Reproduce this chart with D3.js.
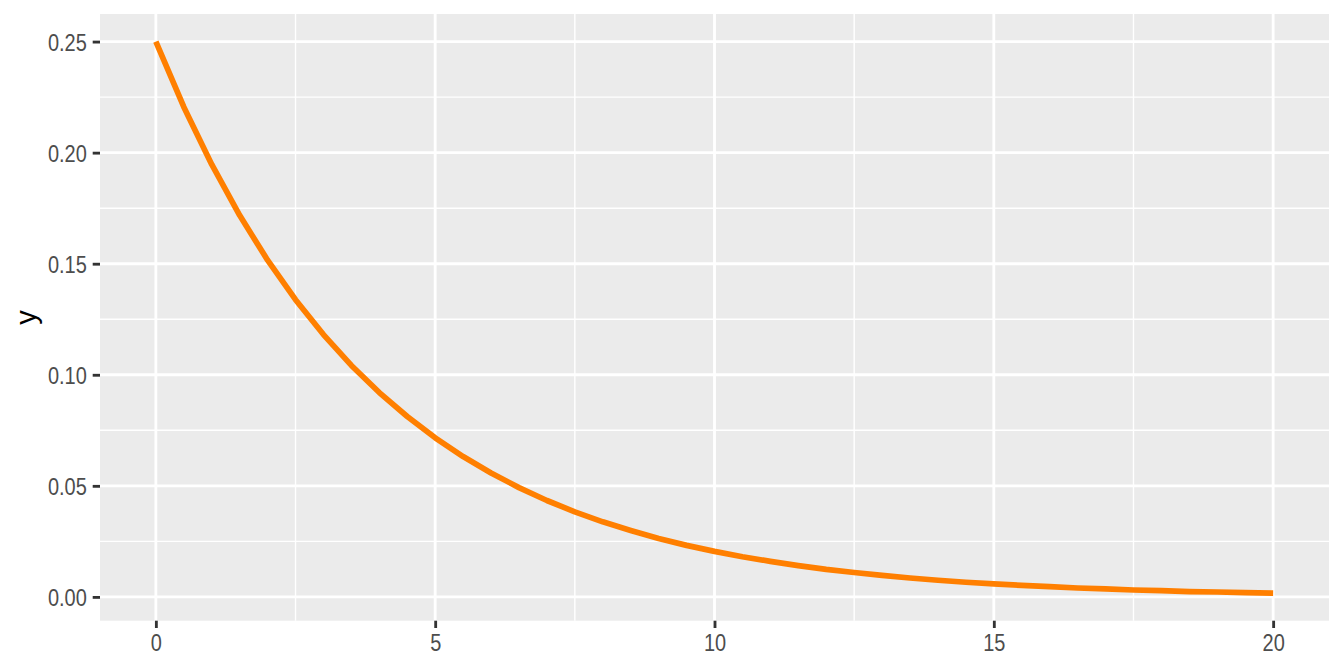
<!DOCTYPE html>
<html>
<head>
<meta charset="utf-8">
<script src="https://cdn.jsdelivr.net/npm/d3@7"></script>
<style>
  html, body { margin: 0; padding: 0; background: #ffffff; }
  svg { display: block; }
  text { font-family: "Liberation Sans Narrow", "Liberation Sans", Arial, sans-serif; }
</style>
</head>
<body>
<svg id="chart" width="1344" height="672"></svg>
<script>
// Data
const xValues = [0, 0.5, 1, 1.5, 2, 2.5, 3, 3.5, 4, 4.5, 5, 5.5, 6, 6.5, 7, 7.5, 8, 8.5, 9, 9.5,
                 10, 10.5, 11, 11.5, 12, 12.5, 13, 13.5, 14, 14.5, 15, 15.5, 16, 16.5, 17, 17.5, 18, 18.5, 19, 19.5, 20];
const yValues = [0.2500, 0.2206, 0.1947, 0.1718, 0.1516, 0.1338, 0.1181, 0.1042, 0.0920, 0.0812,
                 0.0716, 0.0632, 0.0558, 0.0492, 0.0434, 0.0383, 0.0338, 0.0299, 0.0263, 0.0232,
                 0.0205, 0.0181, 0.0160, 0.0141, 0.0124, 0.0110, 0.0097, 0.0085, 0.0075, 0.0066,
                 0.0059, 0.0052, 0.0046, 0.0040, 0.0036, 0.0031, 0.0028, 0.0024, 0.0022, 0.0019, 0.0017];
const xTicks = [0, 5, 10, 15, 20];
const xMinorTicks = [2.5, 7.5, 12.5, 17.5];
const yTicks = [0.00, 0.05, 0.10, 0.15, 0.20, 0.25];
const yMinorTicks = [0.025, 0.075, 0.125, 0.175, 0.225];
const yTickLabels = ["0.00", "0.05", "0.10", "0.15", "0.20", "0.25"];
const yTitle = "y";

const panel = { left: 100, right: 1329, top: 14, bottom: 620.7 };

const xMin = d3.min(xValues), xMax = d3.max(xValues);
const yMin = d3.min(yValues), yMax = d3.max(yValues);
const xExp = (xMax - xMin) * 0.05, yExp = (yMax - yMin) * 0.05;

const x = d3.scaleLinear().domain([xMin - xExp, xMax + xExp]).range([panel.left, panel.right]);
const y = d3.scaleLinear().domain([yMin - yExp, yMax + yExp]).range([panel.bottom, panel.top]);

const svg = d3.select("#chart");

svg.append("rect")
  .attr("x", panel.left).attr("y", panel.top)
  .attr("width", panel.right - panel.left).attr("height", panel.bottom - panel.top)
  .attr("fill", "#EBEBEB");

const grid = svg.append("g");
grid.selectAll(".xminor").data(xMinorTicks).join("line")
  .attr("class", "xminor")
  .attr("x1", d => x(d)).attr("x2", d => x(d))
  .attr("y1", panel.top).attr("y2", panel.bottom)
  .attr("stroke", "#ffffff").attr("stroke-width", 1.42);
grid.selectAll(".yminor").data(yMinorTicks).join("line")
  .attr("class", "yminor")
  .attr("x1", panel.left).attr("x2", panel.right)
  .attr("y1", d => y(d)).attr("y2", d => y(d))
  .attr("stroke", "#ffffff").attr("stroke-width", 1.42);
grid.selectAll(".xmajor").data(xTicks).join("line")
  .attr("class", "xmajor")
  .attr("x1", d => x(d)).attr("x2", d => x(d))
  .attr("y1", panel.top).attr("y2", panel.bottom)
  .attr("stroke", "#ffffff").attr("stroke-width", 2.84);
grid.selectAll(".ymajor").data(yTicks).join("line")
  .attr("class", "ymajor")
  .attr("x1", panel.left).attr("x2", panel.right)
  .attr("y1", d => y(d)).attr("y2", d => y(d))
  .attr("stroke", "#ffffff").attr("stroke-width", 2.84);

const pts = xValues.map((v, i) => [v, yValues[i]]);
svg.append("path")
  .datum(pts)
  .attr("fill", "none")
  .attr("stroke", "#FF7F00")
  .attr("stroke-width", 5.7)
  .attr("stroke-linejoin", "round")
  .attr("stroke-linecap", "butt")
  .attr("d", d3.line().x(d => x(d[0])).y(d => y(d[1])));

const xAxis = d3.axisBottom(x).tickValues(xTicks).tickSizeInner(7.3).tickSizeOuter(0).tickPadding(5.9)
  .tickFormat(d3.format("d"));
const gx = svg.append("g").attr("transform", `translate(0,${panel.bottom})`).call(xAxis);
gx.select(".domain").remove();
gx.attr("font-family", null).attr("font-size", null);
gx.selectAll(".tick line").attr("stroke", "#333333").attr("stroke-width", 2.84);
gx.selectAll(".tick text").attr("fill", "#4D4D4D").attr("font-size", 23.5)
  .attr("dy", null).attr("y", 30.6);

const yAxis = d3.axisLeft(y).tickValues(yTicks).tickSizeInner(7.3).tickSizeOuter(0).tickPadding(5.9)
  .tickFormat((d, i) => yTickLabels[i]);
const gy = svg.append("g").attr("transform", `translate(${panel.left},0)`).call(yAxis);
gy.select(".domain").remove();
gy.attr("font-family", null).attr("font-size", null);
gy.selectAll(".tick line").attr("stroke", "#333333").attr("stroke-width", 2.84);
gy.selectAll(".tick text").attr("fill", "#4D4D4D").attr("font-size", 23.5)
  .attr("dy", "0.36em");

const title = svg.append("text")
  .attr("transform", `translate(36,${(panel.top + panel.bottom) / 2}) rotate(-90)`)
  .attr("text-anchor", "middle")
  .attr("fill", "#000000")
  .attr("font-size", 29.3)
  .text(yTitle);

// Narrow the glyphs (reference uses a narrow sans face)
svg.selectAll(".tick text").each(function () {
  const w = this.getComputedTextLength();
  if (w > 0) {
    d3.select(this).attr("textLength", w * 0.85).attr("lengthAdjust", "spacingAndGlyphs");
  }
});
</script>
</body>
</html>
